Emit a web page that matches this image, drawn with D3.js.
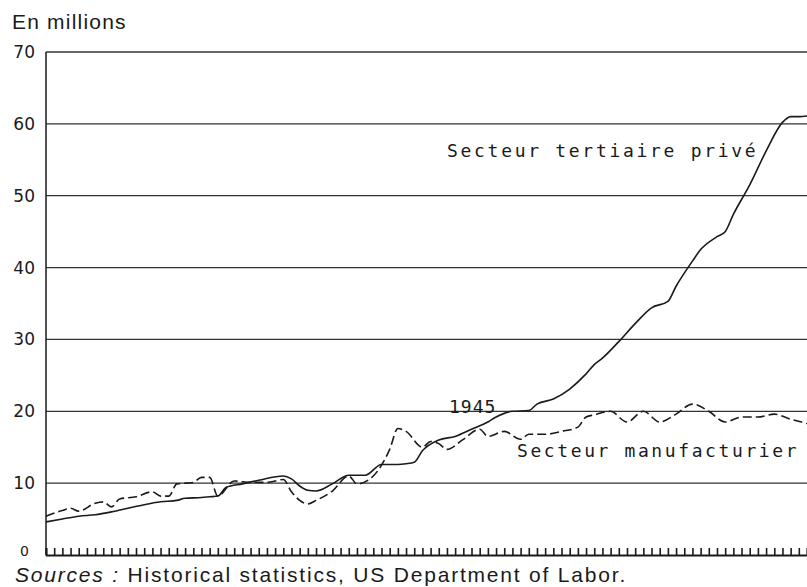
<!DOCTYPE html>
<html>
<head>
<meta charset="UTF-8">
<title>Emploi US</title>
<style>
  body { margin: 0; background: #fff; }
</style>
</head>
<body>
<div id="chart"></div>
<script src="https://cdn.jsdelivr.net/npm/d3@7"></script>
<script>
// secteur tertiaire privé (trait plein), en millions
const tertYears = [1900, 1902, 1904, 1906, 1908, 1910, 1912, 1914, 1916, 1917, 1919, 1920, 1921, 1922, 1924, 1926, 1929, 1930, 1931, 1932, 1933, 1935, 1937, 1939, 1941, 1943, 1944, 1945, 1946, 1948, 1950, 1952, 1954, 1955, 1957, 1959, 1960, 1962, 1964, 1966, 1967, 1968, 1970, 1972, 1974, 1976, 1977, 1979, 1980, 1982, 1983, 1984, 1986, 1988, 1990, 1991, 1992, 1993];
const tertValues = [4.6, 5.0, 5.4, 5.6, 6.0, 6.5, 7.0, 7.4, 7.6, 7.9, 8.0, 8.1, 8.2, 9.4, 9.9, 10.4, 11.0, 10.6, 9.6, 9.0, 8.9, 9.9, 11.1, 11.1, 12.6, 12.6, 12.7, 12.9, 14.5, 16.0, 16.5, 17.5, 18.5, 19.2, 20.0, 20.1, 21.0, 21.7, 23.1, 25.2, 26.5, 27.4, 29.7, 32.2, 34.4, 35.3, 37.4, 40.9, 42.5, 44.3, 45.0, 47.4, 51.5, 56.2, 60.2, 61.0, 61.0, 61.1];

// secteur manufacturier (tirets)
const manuYears = [1900, 1902, 1903, 1904, 1906, 1907, 1908, 1909, 1911, 1913, 1914, 1915, 1916, 1918, 1919, 1920, 1921, 1923, 1925, 1927, 1929, 1930, 1931, 1932, 1933, 1935, 1937, 1938, 1940, 1942, 1943, 1944, 1946, 1947, 1948, 1949, 1951, 1953, 1954, 1956, 1958, 1959, 1961, 1963, 1965, 1966, 1967, 1969, 1971, 1973, 1975, 1977, 1979, 1981, 1983, 1985, 1987, 1989, 1991, 1993];
const manuValues = [5.4, 6.2, 6.5, 6.1, 7.2, 7.4, 6.7, 7.8, 8.1, 8.8, 8.2, 8.2, 9.9, 10.1, 10.8, 10.8, 8.2, 10.3, 10.1, 10.1, 10.5, 8.8, 7.6, 7.1, 7.6, 8.9, 11.0, 9.9, 11.0, 14.7, 17.6, 17.2, 15.0, 15.8, 15.5, 14.7, 16.1, 17.5, 16.5, 17.2, 16.1, 16.8, 16.8, 17.2, 17.8, 19.2, 19.5, 20.0, 18.5, 20.0, 18.5, 19.6, 21.0, 20.0, 18.5, 19.2, 19.2, 19.6, 18.9, 18.3];

const yTicks = [0, 10, 20, 30, 40, 50, 60, 70];
const yearTicks = d3.range(1900, 1994);

const width = 807, height = 587;
const svg = d3.select("#chart").append("svg")
    .attr("width", width)
    .attr("height", height);

const x = d3.scaleLinear().domain([1900, 1993]).range([46, 807]);
const y = d3.scaleLinear().domain([0, 70]).range([555, 52]);

const ink = "#1a1a1a";

// lignes horizontales
svg.append("g").selectAll("line").data(yTicks.filter(d => d > 0)).enter().append("line")
    .attr("x1", x(1900)).attr("x2", width)
    .attr("y1", d => y(d)).attr("y2", d => y(d))
    .attr("stroke", "#333").attr("stroke-width", 1.3);

// axe vertical
svg.append("line")
    .attr("x1", x(1900)).attr("x2", x(1900))
    .attr("y1", y(70)).attr("y2", y(0))
    .attr("stroke", ink).attr("stroke-width", 1.5);

// axe des années, petites graduations vers le haut
const xAxis = d3.axisBottom(x).tickValues(yearTicks).tickSize(-7).tickFormat("");
const gx = svg.append("g").attr("transform", `translate(0,${y(0)})`).call(xAxis);
gx.select(".domain").attr("stroke", ink).attr("stroke-width", 1.8);
gx.selectAll(".tick line").attr("stroke", ink).attr("stroke-width", 1.6);

// graduations y
svg.append("g").selectAll("text").data(yTicks).enter().append("text")
    .attr("x", d => d === 0 ? 29 : 35)
    .attr("y", d => d === 0 ? y(d) + 1 : y(d) + 6)
    .attr("text-anchor", "end")
    .attr("font-family", "DejaVu Sans")
    .attr("font-size", d => d === 0 ? "14px" : "17px")
    .attr("fill", ink)
    .text(d => d);

const line = d3.line().x(d => x(d[0])).y(d => y(d[1])).curve(d3.curveMonotoneX);

svg.append("path")
    .datum(d3.zip(tertYears, tertValues))
    .attr("d", line)
    .attr("fill", "none").attr("stroke", ink).attr("stroke-width", 1.6);

svg.append("path")
    .datum(d3.zip(manuYears, manuValues))
    .attr("d", line)
    .attr("fill", "none").attr("stroke", ink).attr("stroke-width", 1.6)
    .attr("stroke-dasharray", "9,4");

// étiquettes
const plotFont = "DejaVu Sans Mono";
svg.append("text").attr("x", 447).attr("y", 157)
    .attr("font-family", plotFont).attr("font-size", "18px").attr("letter-spacing", "2.7px")
    .attr("fill", ink).text("Secteur tertiaire privé");
svg.append("text").attr("x", 517).attr("y", 457)
    .attr("font-family", plotFont).attr("font-size", "18px").attr("letter-spacing", "2.6px")
    .attr("fill", ink).text("Secteur manufacturier");
svg.append("text").attr("x", 449).attr("y", 413)
    .attr("font-family", plotFont).attr("font-size", "18px").attr("letter-spacing", "1px")
    .attr("fill", ink).text("1945");

svg.append("text").attr("x", 12).attr("y", 29)
    .attr("font-family", "Liberation Sans").attr("font-size", "21px").attr("letter-spacing", "1.2px")
    .attr("fill", ink).text("En millions");

const src = svg.append("text").attr("x", 15).attr("y", 582)
    .attr("font-family", "Liberation Sans").attr("font-size", "21px").attr("letter-spacing", "1.8px")
    .attr("fill", ink);
src.append("tspan").attr("font-style", "italic").text("Sources :");
src.append("tspan").text(" Historical statistics, US Department of Labor.");
</script>
</body>
</html>
